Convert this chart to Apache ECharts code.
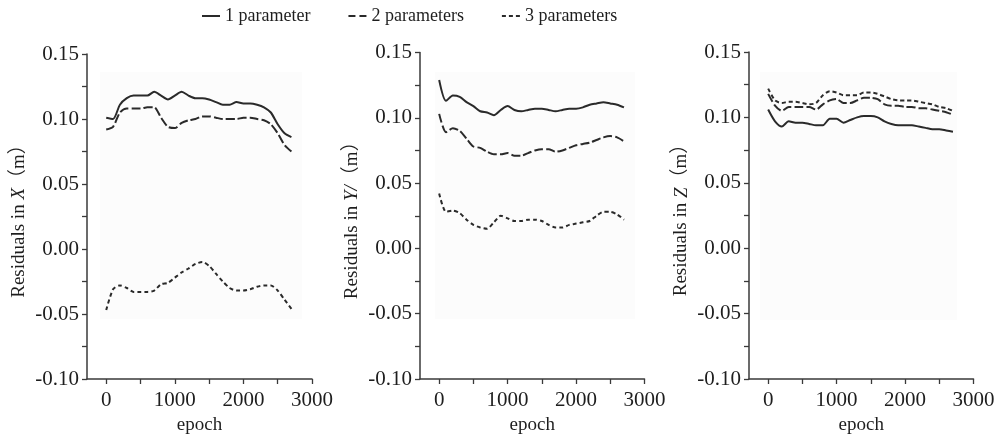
<!DOCTYPE html>
<html>
<head>
<meta charset="utf-8">
<script src="https://cdn.jsdelivr.net/npm/echarts@6/dist/echarts.min.js"></script>
<style>html,body{margin:0;padding:0;background:#fff}#c{width:997px;height:435px}</style>
</head>
<body>
<div id="c"></div>
<script>
// ---- data ----
const seriesNames = ['1 parameter', '2 parameters', '3 parameters'];
const epochs = [0,100,200,300,400,500,600,700,800,900,1000,1100,1200,1300,1400,1500,1600,1700,1800,1900,2000,2100,2200,2300,2400,2500,2600,2700];

// Residuals in X
const xOne   = [0.101,0.100,0.111,0.116,0.118,0.118,0.118,0.121,0.118,0.115,0.118,0.121,0.118,0.116,0.116,0.115,0.113,0.111,0.111,0.113,0.112,0.112,0.111,0.109,0.105,0.096,0.089,0.086];
const xTwo   = [0.092,0.094,0.105,0.108,0.108,0.108,0.109,0.109,0.101,0.094,0.093,0.097,0.099,0.100,0.102,0.102,0.101,0.100,0.100,0.100,0.101,0.101,0.100,0.099,0.096,0.089,0.080,0.075];
const xThree = [-0.047,-0.031,-0.028,-0.030,-0.033,-0.033,-0.033,-0.032,-0.027,-0.026,-0.022,-0.018,-0.015,-0.0115,-0.010,-0.013,-0.019,-0.025,-0.030,-0.032,-0.032,-0.031,-0.029,-0.028,-0.028,-0.032,-0.039,-0.046];

// Residuals in Y
const yOne   = [0.129,0.113,0.117,0.116,0.112,0.109,0.105,0.104,0.102,0.106,0.109,0.106,0.105,0.106,0.107,0.107,0.106,0.105,0.106,0.107,0.107,0.108,0.110,0.111,0.112,0.111,0.110,0.108];
const yTwo   = [0.103,0.089,0.092,0.090,0.084,0.078,0.077,0.074,0.072,0.072,0.073,0.071,0.071,0.073,0.075,0.076,0.076,0.074,0.075,0.077,0.079,0.080,0.081,0.083,0.085,0.086,0.085,0.082];
const yThree = [0.042,0.028,0.029,0.027,0.022,0.018,0.016,0.015,0.020,0.025,0.023,0.021,0.021,0.022,0.022,0.021,0.018,0.016,0.016,0.018,0.019,0.020,0.021,0.025,0.028,0.028,0.026,0.022];

// Residuals in Z
const zOne   = [0.106,0.097,0.093,0.097,0.096,0.096,0.095,0.094,0.094,0.099,0.099,0.096,0.098,0.100,0.101,0.101,0.100,0.097,0.095,0.094,0.094,0.094,0.093,0.092,0.091,0.091,0.090,0.089];
const zTwo   = [0.118,0.109,0.105,0.108,0.108,0.108,0.108,0.106,0.110,0.113,0.114,0.111,0.111,0.113,0.115,0.115,0.114,0.110,0.109,0.109,0.108,0.108,0.107,0.107,0.106,0.105,0.104,0.102];
const zThree = [0.122,0.113,0.111,0.112,0.112,0.111,0.110,0.111,0.117,0.120,0.119,0.117,0.117,0.117,0.119,0.119,0.118,0.116,0.114,0.113,0.113,0.113,0.112,0.111,0.110,0.108,0.107,0.105];

// tick values / labels
const xTickValues  = [0,500,1000,1500,2000,2500,3000];
const xLabelValues = [0,1000,2000,3000];
const yAxisLetters = ['X', 'Y/', 'Z'];

// ---- chart ----
const FONT = '"Liberation Serif", "Times New Roman", "Noto Sans CJK SC", serif';
const INK = '#1e1e1e';
const AXIS = '#3a3a3a';
const LINE = '#2a2a2a';
const dashTypes = ['solid', [9, 3], [4, 3]];
const legendIcons = [
  'path://M0,0h18v2h-18z',
  'path://M0,0h7v2h-7z M11,0h7v2h-7z',
  'path://M0,0h4v2h-4z M7,0h4v2h-4z M14,0h4v2h-4z'
];

const grids = [
  {left: 87, top: 54, width: 225, height: 325, outerBoundsMode: 'none', containLabel: false},
  {left: 420, top: 52.5, width: 224.5, height: 326.5, outerBoundsMode: 'none', containLabel: false},
  {left: 749, top: 52, width: 224.5, height: 327, outerBoundsMode: 'none', containLabel: false}
];

const panels = [[xOne, xTwo, xThree], [yOne, yTwo, yThree], [zOne, zTwo, zThree]];
const pair = (vals) => epochs.map((e, i) => [e, vals[i]]);

const xAxes = grids.map((g, i) => ({
  type: 'value', gridIndex: i, min: -280, max: 3000,
  name: 'epoch', nameLocation: 'middle', nameGap: 35,
  nameTextStyle: {fontFamily: FONT, fontSize: 19, color: INK},
  axisLine: {show: true, onZero: false, lineStyle: {color: AXIS, width: 1.5}},
  axisTick: {show: true, length: 5, customValues: xTickValues, lineStyle: {color: AXIS, width: 1.3}},
  axisLabel: {customValues: xLabelValues, fontFamily: FONT, fontSize: 21, color: INK, margin: 11,
              formatter: v => String(v)},
  splitLine: {show: false}
}));

const yAxes = grids.map((g, i) => ({
  type: 'value', gridIndex: i, min: -0.1, max: 0.15, interval: 0.05,
  name: '{a|Residuals in }{i|' + yAxisLetters[i] + '}{a|（m）}',
  nameLocation: 'middle', nameRotate: 90, nameGap: 58,
  nameTextStyle: {rich: {
    a: {fontFamily: FONT, fontSize: 19, color: INK},
    i: {fontFamily: FONT, fontSize: 19, fontStyle: 'italic', color: INK}
  }},
  axisLine: {show: true, onZero: false, lineStyle: {color: AXIS, width: 1.5}},
  axisTick: {show: true, length: 5, lineStyle: {color: AXIS, width: 1.3}},
  minorTick: {show: true, splitNumber: 2, length: 5, lineStyle: {color: AXIS, width: 1.3}},
  axisLabel: {fontFamily: FONT, fontSize: 21, color: INK, margin: 8, formatter: v => v.toFixed(2)},
  splitLine: {show: false}
}));

const series = [];
panels.forEach((vals, p) => {
  vals.forEach((v, k) => {
    series.push({
      name: seriesNames[k], type: 'line', xAxisIndex: p, yAxisIndex: p,
      data: pair(v), symbol: 'none', smooth: 0.25,
      lineStyle: {color: LINE, width: 2, type: dashTypes[k]},
      itemStyle: {color: LINE},
      emphasis: {disabled: true}
    });
  });
});

// faint plotting backgrounds of the original figure
const bgRects = [[100, 72, 202, 247], [435, 72, 200, 247], [760, 72, 197, 248]].map(r => ({
  type: 'rect', shape: {x: r[0], y: r[1], width: r[2], height: r[3]},
  style: {fill: '#fcfcfc'}, z: -10, silent: true
}));

const chart = echarts.init(document.getElementById('c'), null, {renderer: 'canvas'});
chart.setOption({
  backgroundColor: '#fff',
  animation: false,
  graphic: bgRects,
  legend: {
    data: seriesNames.map((n, k) => ({name: n, icon: legendIcons[k], itemStyle: {color: LINE}})),
    left: 202, top: 7, padding: 0, itemWidth: 18, itemHeight: 2, itemGap: 38,
    textStyle: {fontFamily: FONT, fontSize: 18, color: INK},
    selectedMode: false
  },
  grid: grids,
  xAxis: xAxes,
  yAxis: yAxes,
  series: series
});
</script>
</body>
</html>
